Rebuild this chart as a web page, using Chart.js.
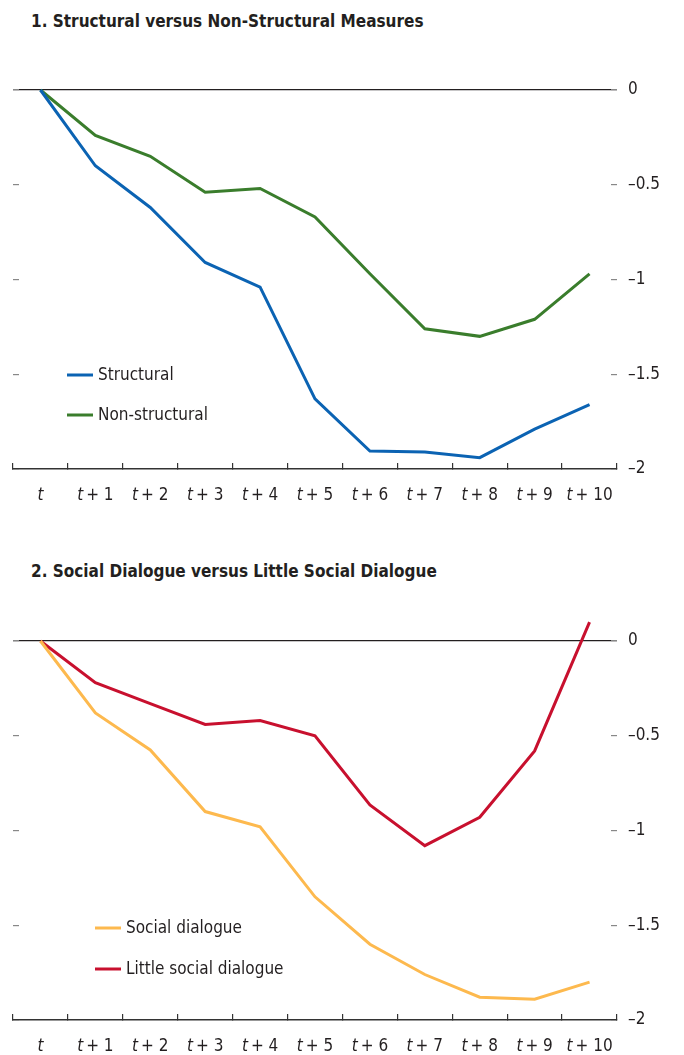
<!DOCTYPE html>
<html>
<head>
<meta charset="utf-8">
<script src="https://cdn.jsdelivr.net/npm/chart.js@4.4.1/dist/chart.umd.min.js"></script>
<style>
  body { margin: 0; background: #fff; width: 684px; height: 1055px; position: relative; overflow: hidden;
         font-family: "Liberation Sans Narrow", "DejaVu Sans Condensed", sans-serif; }
  .title { position: absolute; left: 31px; font-weight: bold; font-size: 17px; color: #231f20; }
  .panel { position: absolute; left: 0; width: 684px; }
</style>
</head>
<body>
<div class="title" style="top:11px">1. Structural versus Non-Structural Measures</div>
<div class="panel" style="top:0;height:520px"><canvas id="chart1"></canvas></div>
<div class="title" style="top:561px">2. Social Dialogue versus Little Social Dialogue</div>
<div class="panel" style="top:550px;height:505px"><canvas id="chart2"></canvas></div>

<script>
const FONT = '"Liberation Sans Narrow", "DejaVu Sans Condensed", sans-serif';

// horizons after the measure (0 = t)
const horizons = [0, 1, 2, 3, 4, 5, 6, 7, 8, 9, 10];
const yTicks = [0, -0.5, -1, -1.5, -2];

const structural    = [0, -0.40, -0.62, -0.91, -1.04, -1.63, -1.905, -1.91, -1.94, -1.79, -1.66];
const nonStructural = [0, -0.24, -0.35, -0.54, -0.52, -0.67, -0.97, -1.26, -1.30, -1.21, -0.97];

const socialDialogue = [0, -0.38, -0.575, -0.90, -0.98, -1.35, -1.60, -1.76, -1.88, -1.89, -1.80];
const littleDialogue = [0, -0.22, -0.33, -0.44, -0.42, -0.50, -0.865, -1.08, -0.93, -0.58, 0.10];

const fmtTick = v => v === 0 ? '0' : '\u2013' + Math.abs(v);

// "t", "t + 1" ... with italic t
const horizonLabels = {
    id: 'horizonLabels',
    afterDraw(chart) {
        const xs = chart.scales.x;
        const ctx = chart.ctx;
        const y = xs.top + chart.options.plugins.horizonLabels.offset;
        ctx.save();
        ctx.fillStyle = '#231f20';
        ctx.textBaseline = 'middle';
        ctx.textAlign = 'left';
        horizons.forEach((h, i) => {
            const cx = xs.getPixelForTick(i);
            ctx.font = 'italic 17px ' + FONT;
            const wt = ctx.measureText('t').width;
            ctx.font = '17px ' + FONT;
            const rest = h === 0 ? '' : '+ ' + h;
            const wr = rest ? ctx.measureText(rest).width + 3 : 0;
            let x = cx - (wt + wr) / 2;
            ctx.font = 'italic 17px ' + FONT;
            ctx.fillText('t', x, y);
            if (rest) {
                ctx.font = '17px ' + FONT;
                ctx.fillText(rest, x + wt + 3, y);
            }
        });
        ctx.restore();
    }
};

const insideLegend = {
    id: 'insideLegend',
    afterDraw(chart) {
        const o = chart.options.plugins.insideLegend;
        const ctx = chart.ctx;
        ctx.save();
        ctx.font = '17px ' + FONT;
        ctx.textBaseline = 'middle';
        chart.data.datasets.forEach((ds, i) => {
            const y = o.y + i * o.gap;
            ctx.strokeStyle = ds.borderColor;
            ctx.lineWidth = 3;
            ctx.beginPath();
            ctx.moveTo(o.x, y);
            ctx.lineTo(o.x + 26, y);
            ctx.stroke();
            ctx.fillStyle = '#231f20';
            ctx.fillText(ds.label, o.x + 31, y + 1);
        });
        ctx.restore();
    }
};

function makeChart(id, datasets, padTop, xHeight, legendPos) {
    return new Chart(document.getElementById(id), {
        type: 'line',
        data: {
            labels: horizons.map(h => h === 0 ? 't' : 't + ' + h),
            datasets: datasets.map(d => ({
                label: d.label,
                data: d.data,
                borderColor: d.color,
                borderWidth: 3,
                pointRadius: 0,
                tension: 0,
                clip: false
            }))
        },
        options: {
            responsive: true,
            maintainAspectRatio: false,
            animation: false,
            layout: { padding: { top: padTop, left: 0, right: 0, bottom: 0 } },
            plugins: {
                legend: { display: false },
                tooltip: { enabled: false },
                horizonLabels: { offset: 27 },
                insideLegend: legendPos
            },
            scales: {
                x: {
                    type: 'category',
                    offset: true,
                    afterFit: s => { s.height = xHeight; },
                    ticks: { display: false },
                    grid: { offset: true, drawOnChartArea: false, tickLength: -6, tickColor: '#333', lineWidth: 1.2 },
                    border: { display: true, color: '#333', width: 1.5 }
                },
                y: {
                    position: 'right',
                    min: -2,
                    max: 0,
                    afterBuildTicks: s => { s.ticks = yTicks.map(v => ({ value: v })); },
                    afterFit: s => { s.width = 67; },
                    ticks: {
                        padding: 17,
                        color: '#231f20',
                        font: { family: FONT, size: 17 },
                        callback: fmtTick
                    },
                    grid: {
                        drawOnChartArea: true,
                        color: c => (c.tick && c.tick.value === 0) ? '#231f20' : 'rgba(0,0,0,0)',
                        lineWidth: 1.2,
                        tickLength: -6,
                        tickColor: '#888'
                    },
                    border: { display: false }
                },
                yl: {
                    position: 'left',
                    min: -2,
                    max: 0,
                    afterBuildTicks: s => { s.ticks = yTicks.map(v => ({ value: v })); },
                    afterFit: s => { s.width = 13; },
                    ticks: { display: false },
                    grid: { drawOnChartArea: false, tickLength: -6, tickColor: '#888', lineWidth: 1.2 },
                    border: { display: false }
                }
            }
        },
        plugins: [horizonLabels, insideLegend]
    });
}

makeChart('chart1', [
    { label: 'Structural', data: structural, color: '#0b63b3' },
    { label: 'Non-structural', data: nonStructural, color: '#3a7d2c' }
], 90, 51, { x: 67, y: 375, gap: 40 });

makeChart('chart2', [
    { label: 'Social dialogue', data: socialDialogue, color: '#fdb94e' },
    { label: 'Little social dialogue', data: littleDialogue, color: '#c8102e' }
], 91, 35, { x: 95, y: 378, gap: 41 });
</script>
</body>
</html>
